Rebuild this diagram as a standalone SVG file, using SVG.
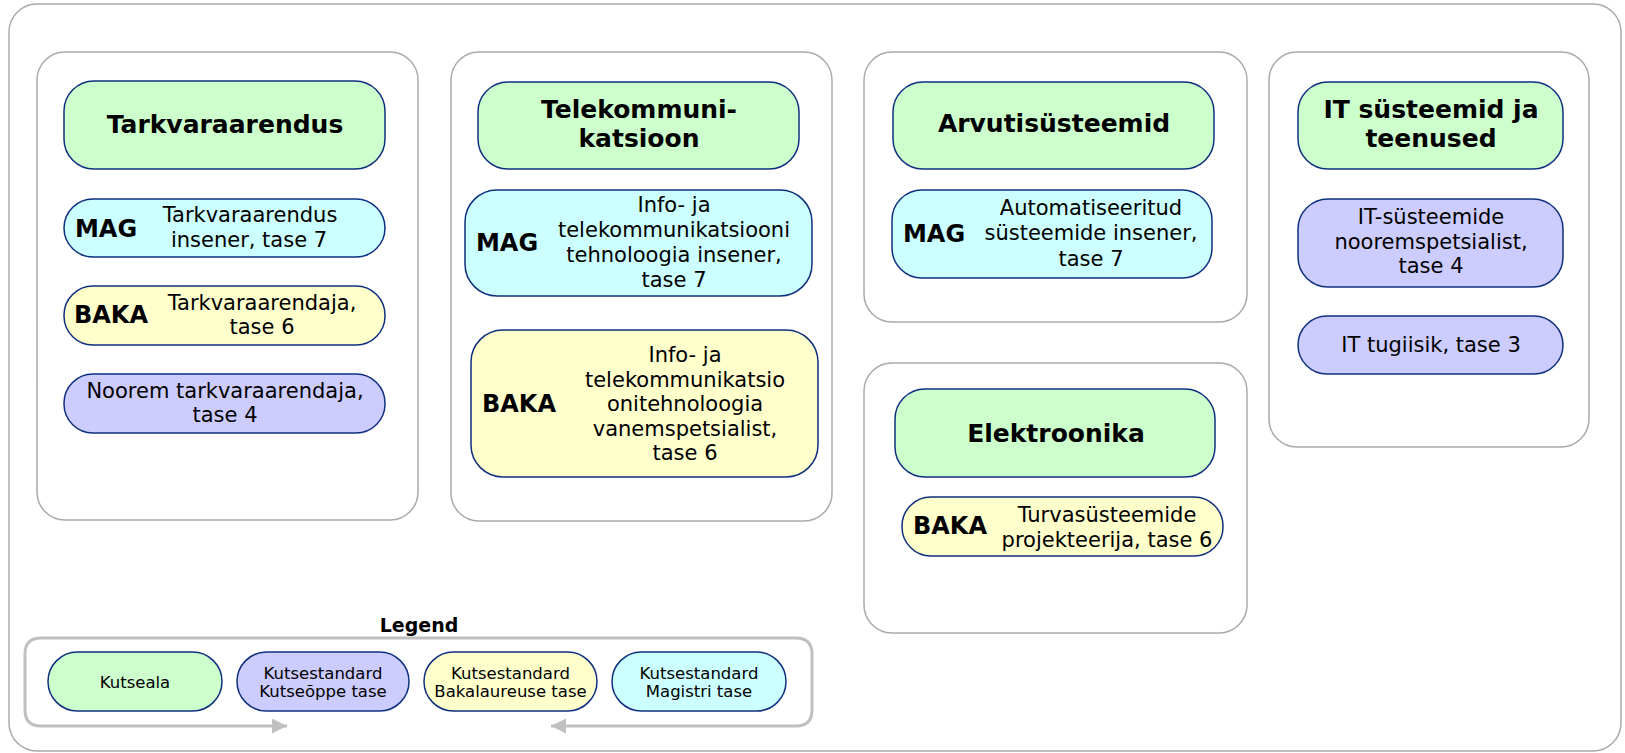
<svg xmlns="http://www.w3.org/2000/svg" width="1625" height="753" viewBox="0 0 1625 753">
<defs>
<style>
.frame{fill:#fff;stroke:#aaaaaa;stroke-width:1.5}
.panel{fill:#fff;stroke:#aaaaaa;stroke-width:1.5}
.n{stroke:#0f2f7f;stroke-width:1.5}
.g{fill:#ccffcc}.c{fill:#ccffff}.y{fill:#ffffcc}.l{fill:#ccccff}
text{font-family:"DejaVu Sans",Verdana,sans-serif;fill:#000;text-anchor:middle}
.t{font-size:21px}
.b{font-size:24px;font-weight:bold}
.h{font-size:25px;font-weight:bold}
.lg{font-size:16.5px}
.lt{font-size:19px;font-weight:bold}
.conn{fill:none;stroke:#c0c0c0;stroke-width:3}
</style>
<marker id="arr" markerUnits="userSpaceOnUse" markerWidth="16" markerHeight="16" refX="15" refY="7.5" orient="auto">
<path d="M0,0 L15,7.5 L0,15 Z" fill="#c0c0c0"/>
</marker>
</defs>
<rect class="frame" x="9" y="4" width="1612" height="747" rx="28"/>
<g id="panels">
<rect class="panel" x="37" y="52" width="381" height="468" rx="28"/>
<rect class="panel" x="451" y="52" width="381" height="469" rx="28"/>
<rect class="panel" x="864" y="52" width="383" height="270" rx="28"/>
<rect class="panel" x="864" y="363" width="383" height="270" rx="28"/>
<rect class="panel" x="1269" y="52" width="320" height="395" rx="28"/>
</g>
<g id="n-tarkvaraarendus">
<rect class="n g" x="64" y="81" width="321" height="88" rx="30"/>
<text class="h" x="225" y="133">Tarkvaraarendus</text>
</g>
<g id="n-tark-mag">
<rect class="n c" x="64" y="199" width="321" height="58" rx="29"/>
<text class="b" x="106" y="237">MAG</text>
<text class="t" x="250" y="222">Tarkvaraarendus</text>
<text class="t" x="249" y="247">insener, tase 7</text>
</g>
<g id="n-tark-baka">
<rect class="n y" x="64" y="286" width="321" height="59" rx="29"/>
<text class="b" x="111" y="323">BAKA</text>
<text class="t" x="262" y="310">Tarkvaraarendaja,</text>
<text class="t" x="262" y="334">tase 6</text>
</g>
<g id="n-tark-noorem">
<rect class="n l" x="64" y="374" width="321" height="59" rx="29"/>
<text class="t" x="225" y="398">Noorem tarkvaraarendaja,</text>
<text class="t" x="225" y="422">tase 4</text>
</g>
<g id="n-telekom">
<rect class="n g" x="478" y="82" width="321" height="87" rx="30"/>
<text class="h" x="639" y="118">Telekommuni-</text>
<text class="h" x="639" y="147">katsioon</text>
</g>
<g id="n-telekom-mag">
<rect class="n c" x="465" y="190" width="347" height="106" rx="32"/>
<text class="b" x="507" y="251">MAG</text>
<text class="t" x="674" y="212">Info- ja</text>
<text class="t" x="674" y="237">telekommunikatsiooni</text>
<text class="t" x="674" y="262">tehnoloogia insener,</text>
<text class="t" x="674" y="287">tase 7</text>
</g>
<g id="n-telekom-baka">
<rect class="n y" x="471" y="330" width="347" height="147" rx="32"/>
<text class="b" x="519" y="412">BAKA</text>
<text class="t" x="685" y="362">Info- ja</text>
<text class="t" x="685" y="386.5">telekommunikatsio</text>
<text class="t" x="685" y="411">onitehnoloogia</text>
<text class="t" x="685" y="435.5">vanemspetsialist,</text>
<text class="t" x="685" y="460">tase 6</text>
</g>
<g id="n-arvuti">
<rect class="n g" x="893" y="82" width="321" height="87" rx="30"/>
<text class="h" x="1054" y="132">Arvutisüsteemid</text>
</g>
<g id="n-arvuti-mag">
<rect class="n c" x="892" y="190" width="320" height="88" rx="30"/>
<text class="b" x="934" y="242">MAG</text>
<text class="t" x="1091" y="215">Automatiseeritud</text>
<text class="t" x="1091" y="240">süsteemide insener,</text>
<text class="t" x="1091" y="266">tase 7</text>
</g>
<g id="n-elektroonika">
<rect class="n g" x="895" y="389" width="320" height="88" rx="30"/>
<text class="h" x="1056" y="442">Elektroonika</text>
</g>
<g id="n-elektroonika-baka">
<rect class="n y" x="902" y="497" width="321" height="59" rx="29"/>
<text class="b" x="950" y="534">BAKA</text>
<text class="t" x="1107" y="522">Turvasüsteemide</text>
<text class="t" x="1107" y="547">projekteerija, tase 6</text>
</g>
<g id="n-it">
<rect class="n g" x="1298" y="82" width="265" height="87" rx="30"/>
<text class="h" x="1431" y="118">IT süsteemid ja</text>
<text class="h" x="1431" y="147">teenused</text>
</g>
<g id="n-it-noorem">
<rect class="n l" x="1298" y="199" width="265" height="88" rx="30"/>
<text class="t" x="1431" y="224">IT-süsteemide</text>
<text class="t" x="1431" y="249">nooremspetsialist,</text>
<text class="t" x="1431" y="273">tase 4</text>
</g>
<g id="n-it-tugi">
<rect class="n l" x="1298" y="316" width="265" height="58" rx="29"/>
<text class="t" x="1431" y="352">IT tugiisik, tase 3</text>
</g>
<g id="legend">
<text class="lt" x="419" y="632">Legend</text>
<g id="lg-kutseala">
<rect class="n g" x="48" y="652" width="174" height="59" rx="29.5"/>
<text class="lg" x="135" y="688">Kutseala</text>
</g>
<g id="lg-kutseope">
<rect class="n l" x="237" y="652" width="172" height="59" rx="29.5"/>
<text class="lg" x="323" y="679">Kutsestandard</text>
<text class="lg" x="323" y="697">Kutseõppe tase</text>
</g>
<g id="lg-baka">
<rect class="n y" x="424" y="652" width="173" height="59" rx="29.5"/>
<text class="lg" x="510.5" y="679">Kutsestandard</text>
<text class="lg" x="510.5" y="697">Bakalaureuse tase</text>
</g>
<g id="lg-mag">
<rect class="n c" x="612" y="652" width="174" height="59" rx="29.5"/>
<text class="lg" x="699" y="679">Kutsestandard</text>
<text class="lg" x="699" y="697">Magistri tase</text>
</g>
</g>
<g id="connectors">
<path class="conn" d="M418,638 H41 Q25,638 25,654 V710 Q25,726 41,726 H287" marker-end="url(#arr)"/>
<path class="conn" d="M418,638 H796 Q812,638 812,654 V710 Q812,726 796,726 H551" marker-end="url(#arr)"/>
</g>
</svg>
